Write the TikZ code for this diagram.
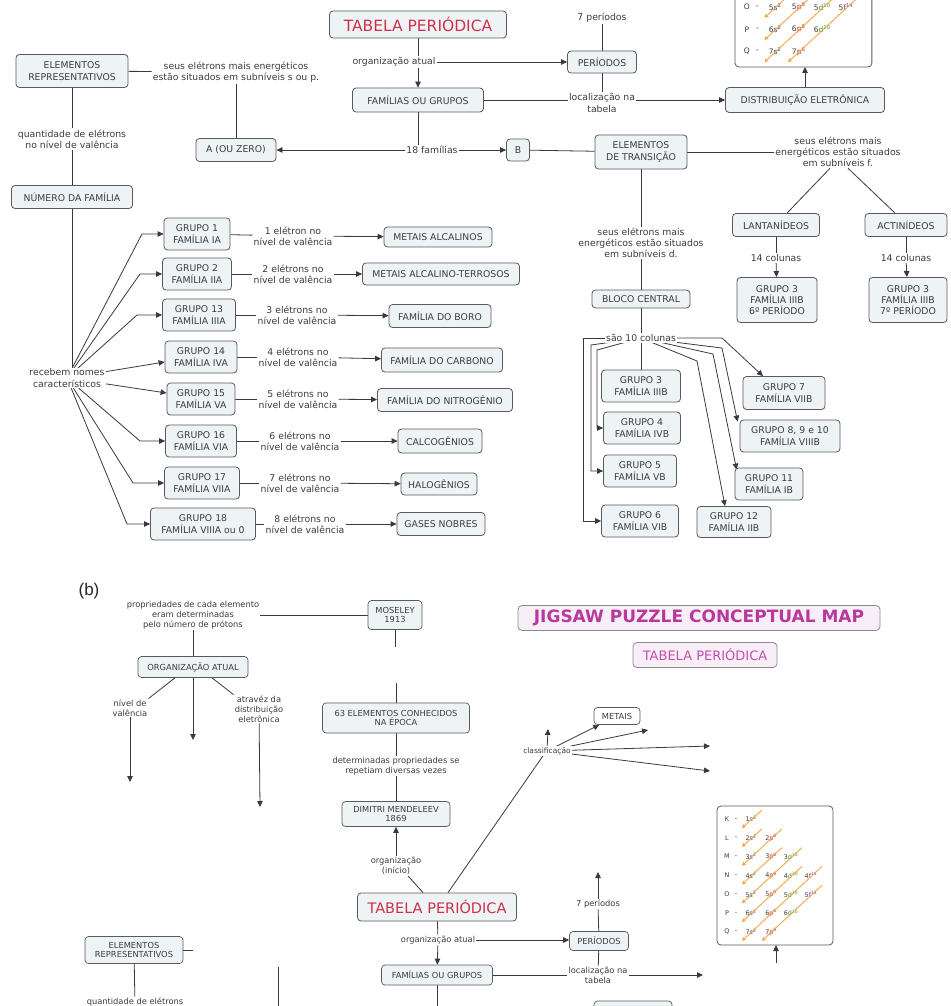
\documentclass[tikz,border=0pt]{standalone}
\usepackage{fontspec}
\setmainfont{DejaVu Sans}
\newfontfamily\arialf{Liberation Sans}
\usetikzlibrary{arrows.meta,backgrounds}
\definecolor{bfill}{HTML}{EEF3F6}
\definecolor{bdraw}{HTML}{5A5A5A}
\definecolor{lcol}{HTML}{3A3A3A}
\definecolor{tcol}{HTML}{3C3C3C}
\definecolor{tred}{HTML}{D0304A}
\definecolor{jig}{HTML}{B8389E}
\definecolor{jigl}{HTML}{C44DB0}
\definecolor{jigfill}{HTML}{F8EEF8}
\definecolor{eorange}{HTML}{F0A035}
\definecolor{orbs}{HTML}{2A4A9A}
\definecolor{orbp}{HTML}{C0302A}
\definecolor{orbd}{HTML}{3A9A2A}
\definecolor{orbf}{HTML}{8A3AAA}
\newcommand\myfa{\fontsize{9.3}{11.3}\selectfont}
\newcommand\myfb{\fontsize{8.3}{9.8}\selectfont}
\newcommand\myfe{\fontsize{6.4}{7}\selectfont}
\newcommand\myft{\fontsize{15.5}{18}\selectfont}
\tikzset{
 box/.style={draw=bdraw, fill=bfill, rounded corners=3.5pt, line width=0.8pt, align=center, inner sep=1pt, text=tcol, font=\myfa},
 boxb/.style={box, font=\myfb, line width=0.7pt},
 lab/.style={fill=white, inner sep=1pt, align=center, text=tcol, font=\myfa},
 labb/.style={lab, font=\myfb},
 ln/.style={draw=lcol, line width=0.8pt},
 ar/.style={ln, -{Triangle[length=6pt,width=5.5pt]}},
 eline/.style={draw=eorange, line width=1pt, draw opacity=0.85, -{Stealth[length=4pt,width=4.5pt]}},
}
\newcommand\econf[3]{%
 \begin{scope}[shift={(#1,#2)},scale=#3,transform shape]
  \draw[draw=bdraw, fill=white, rounded corners=4pt, line width=0.8pt] (0,0) rectangle (116,139);
  \foreach \rr/\LL in {0/K,1/L,2/M,3/N,4/O,5/P,6/Q}{
    \node[font=\myfe,text=tcol,inner sep=0pt] at (10,{13+18.8*\rr}) {\LL};
    \node[font=\myfe,text=tcol,inner sep=0pt] at (19,{13+18.8*\rr}) {-};}
  \foreach \rr/\cc/\nn/\oo/\ee in {0/0/1/s/2,1/0/2/s/2,1/1/2/p/6,2/0/3/s/2,2/1/3/p/6,2/2/3/d/10,3/0/4/s/2,3/1/4/p/6,3/2/4/d/10,3/3/4/f/14,4/0/5/s/2,4/1/5/p/6,4/2/5/d/10,4/3/5/f/14,5/0/6/s/2,5/1/6/p/6,5/2/6/d/10,6/0/7/s/2,6/1/7/p/6}{
    \node[font=\myfe,text=tcol,inner sep=0pt] at ({34+20*\cc},{13+18.8*\rr}) {\nn\textcolor{orb\oo}{\oo\textsuperscript{\ee}}};}
  \foreach \ra/\ca/\rb/\cb in {0/0/0/0,1/0/1/0,1/1/2/0,2/1/3/0,2/2/4/0,3/2/5/0,3/3/6/0,4/3/6/1}{
    \draw[eline] ({45+20*\ca},{4+18.8*\ra}) -- ({25+20*\cb},{22+18.8*\rb});}
 \end{scope}}
\begin{document}
\begin{tikzpicture}[x=1pt,y=-1pt]
\useasboundingbox (0,0) rectangle (950,1006);
\clip (0,0) rectangle (950,1006);
% ================= (a) =================
\node[box, font=\myft, text=tred, minimum width=177, minimum height=27] (tab) at (418,24.5) {TABELA PERIÓDICA};
\node[lab] (sete) at (602,18) {7 períodos};
\node[box, minimum width=69, minimum height=22] (per) at (602,62) {PERÍODOS};
\node[lab] (orgat) at (394,62) {organização atual};
\node[box, minimum width=131, minimum height=24] (fam) at (418,100) {FAMÍLIAS OU GRUPOS};
\node[lab] (loc) at (602,103) {localização na\\tabela};
\node[box, minimum width=159, minimum height=25] (dist) at (805,100) {DISTRIBUIÇÃO ELETRÔNICA};
\econf{735}{-97}{1.18}
\coordinate (ebA) at (805,67);
\node[lab] (f18) at (432,150) {18 famílias};
\node[box, minimum width=80, minimum height=23] (aoz) at (236,150) {A (OU ZERO)};
\node[box, minimum width=23, minimum height=22] (bb) at (518,150) {B};
\node[box, minimum width=112, minimum height=33] (erep) at (72,71) {ELEMENTOS\\REPRESENTATIVOS};
\node[lab] (lsp) at (236,72) {seus elétrons mais energéticos\\estão situados em subníveis s ou p.};
\node[lab] (lqv) at (72,139) {quantidade de elétrons\\no nível de valência};
\node[box, minimum width=121, minimum height=23] (nfam) at (72,197) {NÚMERO DA FAMÍLIA};
\node[lab] (lrn) at (67,378) {recebem nomes\\característicos};
% groups
\node[box, minimum width=66, minimum height=32] (g1) at (197,234) {GRUPO 1\\FAMÍLIA IA};
\node[box, minimum width=69, minimum height=32] (g2) at (197,274) {GRUPO 2\\FAMÍLIA IIA};
\node[box, minimum width=73, minimum height=32] (g3) at (199,315) {GRUPO 13\\FAMÍLIA IIIA};
\node[box, minimum width=72, minimum height=32] (g4) at (201,357) {GRUPO 14\\FAMÍLIA IVA};
\node[box, minimum width=68, minimum height=32] (g5) at (201,399) {GRUPO 15\\FAMÍLIA VA};
\node[box, minimum width=71, minimum height=32] (g6) at (201,441) {GRUPO 16\\FAMÍLIA VIA};
\node[box, minimum width=75, minimum height=32] (g7) at (202,483) {GRUPO 17\\FAMÍLIA VIIA};
\node[box, minimum width=105, minimum height=32] (g8) at (203,524) {GRUPO 18\\FAMÍLIA VIIIA ou 0};
\node[lab] (v1) at (293,236) {1 elétron no\\nível de valência};
\node[lab] (v2) at (293,274) {2 elétrons no\\nível de valência};
\node[lab] (v3) at (297,315) {3 elétrons no\\nível de valência};
\node[lab] (v4) at (298,357) {4 elétrons no\\nível de valência};
\node[lab] (v5) at (298,399) {5 elétrons no\\nível de valência};
\node[lab] (v6) at (300,441) {6 elétrons no\\nível de valência};
\node[lab] (v7) at (300,483) {7 elétrons no\\nível de valência};
\node[lab] (v8) at (305,524) {8 elétrons no\\nível de valência};
\node[box, minimum width=108, minimum height=20] (r1) at (438,237) {METAIS ALCALINOS};
\node[box, minimum width=157, minimum height=22] (r2) at (441,274) {METAIS ALCALINO-TERROSOS};
\node[box, minimum width=102, minimum height=23] (r3) at (440,316) {FAMÍLIA DO BORO};
\node[box, minimum width=121, minimum height=24] (r4) at (442,360) {FAMÍLIA DO CARBONO};
\node[box, minimum width=135, minimum height=23] (r5) at (445,400) {FAMÍLIA DO NITROGÊNIO};
\node[box, minimum width=84, minimum height=24] (r6) at (440,441) {CALCOGÊNIOS};
\node[box, minimum width=76, minimum height=22] (r7) at (439,484) {HALOGÊNIOS};
\node[box, minimum width=88, minimum height=23] (r8) at (441,524) {GASES NOBRES};
% transition
\node[box, minimum width=92, minimum height=34] (etr) at (641,152) {ELEMENTOS\\DE TRANSIÇÃO};
\node[lab] (lf) at (838,152) {seus elétrons mais\\energéticos estão situados\\em subníveis f.};
\node[box, minimum width=87, minimum height=23] (lan) at (776,225) {LANTANÍDEOS};
\node[box, minimum width=82, minimum height=23] (act) at (906,225) {ACTINÍDEOS};
\node[lab] (c14a) at (776,258) {14 colunas};
\node[lab] (c14b) at (906,258) {14 colunas};
\node[box, minimum width=80, minimum height=45] (g3l) at (777,300) {GRUPO 3\\FAMÍLIA IIIB\\6º PERÍODO};
\node[box, minimum width=78, minimum height=45] (g3a) at (908,300) {GRUPO 3\\FAMÍLIA IIIB\\7º PERÍODO};
\node[lab] (ld) at (641,243) {seus elétrons mais\\energéticos estão situados\\em subníveis d.};
\node[box, minimum width=98, minimum height=18] (bc) at (641,299) {BLOCO CENTRAL};
\node[lab] (c10) at (641,338) {são 10 colunas};
\node[box, minimum width=79, minimum height=32] (tg3) at (641,386) {GRUPO 3\\FAMÍLIA IIIB};
\node[box, minimum width=77, minimum height=32] (tg4) at (642,428) {GRUPO 4\\FAMÍLIA IVB};
\node[box, minimum width=73, minimum height=32] (tg5) at (640,471) {GRUPO 5\\FAMÍLIA VB};
\node[box, minimum width=77, minimum height=32] (tg6) at (640,521) {GRUPO 6\\FAMÍLIA VIB};
\node[box, minimum width=82, minimum height=33] (tg7) at (784,393) {GRUPO 7\\FAMÍLIA VIIB};
\node[box, minimum width=100, minimum height=32] (tg8) at (790,436) {GRUPO 8, 9 e 10\\FAMÍLIA VIIIB};
\node[box, minimum width=68, minimum height=32] (tg11) at (769,484) {GRUPO 11\\FAMÍLIA IB};
\node[box, minimum width=74, minimum height=31] (tg12) at (734,522) {GRUPO 12\\FAMÍLIA IIB};
% ================= (b) =================
\node[font=\arialf\fontsize{17}{20}\selectfont, text=black!85] (blab) at (89,591) {(b)};
\node[labb] (lprop) at (193,615) {propriedades de cada elemento\\eram determinadas\\pelo número de prótons};
\node[boxb, minimum width=54, minimum height=29] (mos) at (395,615) {MOSELEY\\1913};
\node[boxb, minimum width=147, minimum height=30] (e63) at (396,718) {63 ELEMENTOS CONHECIDOS\\NA ÉPOCA};
\node[labb] (ldet) at (396,766) {determinadas propriedades se\\repetiam diversas vezes};
\node[boxb, minimum width=108, minimum height=25] (dim) at (396,814) {DIMITRI MENDELEEV\\1869};
\node[labb] (lorg) at (396,866) {organização\\(início)};
\node[box, font=\fontsize{14.5}{17}\selectfont, text=tred, minimum width=159, minimum height=28] (tabb) at (437,907) {TABELA PERIÓDICA};
\node[labb, font=\fontsize{7.5}{9}\selectfont] (cls) at (547,751) {classificação};
\node[boxb, fill=white, minimum width=46, minimum height=17] (met) at (617,716) {METAIS};
\coordinate (cu) at (548,729);
\coordinate (cc2) at (648,730);
\coordinate (cc3) at (710,746);
\coordinate (cc4) at (710,771);
\node[draw=bdraw!70, fill=jigfill, rounded corners=4pt, line width=0.8pt, text=jig, font=\bfseries\fontsize{17}{20}\selectfont, minimum width=362, minimum height=25, inner sep=1pt] (jigt) at (699,618) {JIGSAW PUZZLE CONCEPTUAL MAP};
\node[draw=bdraw!70, fill=jigfill, rounded corners=4pt, line width=0.8pt, text=jigl, font=\fontsize{13}{15}\selectfont, minimum width=144, minimum height=25, inner sep=1pt] (tabp) at (705,655) {TABELA PERIÓDICA};
\node[boxb, minimum width=110, minimum height=21] (orga) at (193,667) {ORGANIZAÇÃO ATUAL};
\node[labb] (lniv) at (130,708) {nível de\\valência};
\node[labb] (latr) at (259,709) {atravéz da\\distribuição\\eletrônica};
\coordinate (cn1) at (130,782);
\coordinate (cn2) at (193,740);
\coordinate (cn3) at (260,807);
\node[boxb, minimum width=98, minimum height=27] (erepb) at (134,950) {ELEMENTOS\\REPRESENTATIVOS};
\node[labb] (lqvb) at (135,1006) {quantidade de elétrons\\no nível de valência};
\coordinate (va) at (278,967);
\coordinate (vb) at (278,1012);
\node[labb] (orgb) at (438,940) {organização atual};
\node[boxb, minimum width=111, minimum height=20] (famb) at (437,975) {FAMÍLIAS OU GRUPOS};
\coordinate (fb) at (437,1012);
\node[boxb, minimum width=59, minimum height=19] (perb) at (599,941) {PERÍODOS};
\node[labb] (seteb) at (598,904) {7 períodos};
\coordinate (cp) at (598,872);
\node[labb] (locb) at (598,975) {localização na\\tabela};
\coordinate (cl) at (703,975);
\econf{717}{806}{1}
\coordinate (ebB) at (776,945);
\coordinate (ebBs) at (776,963);
\node[boxb, minimum width=78, minimum height=30] (etrb) at (633,1016) {ELEMENTOS\\DE TRANSIÇÃO};
\node[labb] (lfb) at (812,1021) {seus elétrons mais\\energéticos estão situados\\em subníveis f.};
% ================= connectors =================
\begin{scope}[on background layer]
\fill[white] (0,0) rectangle (950,1006);
% (a)
\draw[ar] (tab.south) -- (fam.north);
\draw[ar] (orgat) -- (orgat.east -| per.west);
\draw[ln] (sete) -- (per);
\draw[ln] (per) -- (loc);
\draw[ln] (fam.east) -- (fam.east -| loc.west);
\draw[ar] (loc.east |- dist.west) -- (dist.west);
\draw[ar] (dist) -- (ebA);
\draw[ln] (fam.south) -- (fam.south |- f18.center);
\draw[ar] (f18) -- (aoz);
\draw[ar] (f18) -- (bb);
\draw[ln] (erep) -- (lsp);
\draw[ln] (lsp) -- (aoz);
\draw[ln] (erep) -- (lqv);
\draw[ln] (lqv) -- (nfam);
\draw[ln] (nfam.south) -- (nfam.south |- lrn.center);
\draw[ar] (lrn.center) -- (142,234) -- (g1.west);
\draw[ar] (lrn.center) -- (140,274) -- (g2.west);
\draw[ar] (lrn.center) -- (137,315) -- (g3.west);
\draw[ar] (lrn.center) -- ([yshift=-5pt]g4.west);
\draw[ar] (lrn.center) -- ([yshift=6pt]g5.west);
\draw[ar] (lrn.center) -- (140,441) -- (g6.west);
\draw[ar] (lrn.center) -- (133,483) -- (g7.west);
\draw[ar] (lrn.center) -- (127,524) -- (g8.west);
\foreach \i in {1,...,8}{
  \draw[ln] (g\i) -- (v\i);
  \draw[ar] (v\i) -- (r\i);}
\draw[ln] (bb) -- (etr);
\draw[ln] (etr) -- (lf);
\draw[ln] ([xshift=-8pt]lf.south) -- ([xshift=11pt]lan.north);
\draw[ln] ([xshift=10pt]lf.south) -- ([xshift=-11pt]act.north);
\draw[ln] (lan) -- (c14a);
\draw[ar] (c14a) -- (g3l);
\draw[ln] (act) -- (c14b);
\draw[ar] (c14b) -- (g3a);
\draw[ln] (etr) -- (ld);
\draw[ln] (ld) -- (bc);
\draw[ln] (bc) -- (c10);
\draw[ln] (c10) -- (tg3);
\draw[ar] (c10.center) -- (597,350) |- (tg4.west);
\draw[ar] (c10.center) -- (591,345) |- (tg5.west);
\draw[ar] (c10.center) -- (583,338) |- (tg6.west);
\draw[ar] (c10.center) -- (722,338) -- ([xshift=-21pt]tg7.north);
\draw[ar] (c10.center) -- (722,348) -- ([xshift=-2pt,yshift=-2pt]tg8.north west);
\draw[ar] (c10.center) -- (713,354) -- ([xshift=2pt,yshift=-2pt]tg11.north west);
\draw[ar] (c10.center) -- (697,361) -- ([xshift=-9pt]tg12.north);
% (b)
\draw[ln] (lprop) -- (mos);
\draw[ln] (lprop) -- (orga);
\draw[ln] (mos) -- ([yshift=-17pt]mos.south);
\draw[ln] ([yshift=20pt]e63.north) -- (e63);
\draw[ln] (e63) -- (ldet);
\draw[ln] (ldet) -- (dim);
\draw[ar] (lorg) -- (dim);
\draw[ln] ([xshift=-14pt]tabb.north) -- ([xshift=12pt]lorg.south);
\draw[ln] ([xshift=11pt]tabb.north) -- ([xshift=-4pt]cls.south);
\draw[ar] (cls) -- (cu);
\draw[ar] (cls) -- (met);
\draw[ar] (cls) -- (cc2);
\draw[ar] (cls) -- (cc3);
\draw[ar] (cls) -- (cc4);
\draw[ln] ([xshift=-18pt]orga.south) -- (lniv.north east);
\draw[ar] (lniv) -- (cn1);
\draw[ar] (orga) -- (cn2);
\draw[ln] ([xshift=19pt]orga.south) -- (latr.north west);
\draw[ar] (latr) -- (cn3);
\draw[ln] (erepb.east) -- ([xshift=10pt]erepb.east);
\draw[ln] (erepb) -- (lqvb);
\draw[ln] (va) -- (vb);
\draw[ln] (tabb) -- (orgb);
\draw[ar] (orgb) -- (famb);
\draw[ar] (orgb) -- (orgb.east -| perb.west);
\draw[ln] (perb) -- (seteb);
\draw[ar] (seteb) -- (cp);
\draw[ln] (perb) -- (locb);
\draw[ln] (famb.east) -- (famb.east -| locb.west);
\draw[ar] (locb) -- (cl);
\draw[ar] (ebBs) -- (ebB);
\draw[ln] (famb) -- (fb);
\end{scope}
\end{tikzpicture}
\end{document}
